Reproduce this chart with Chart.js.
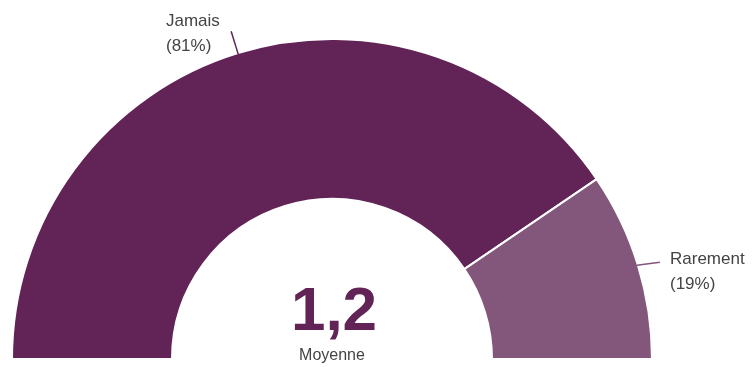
<!DOCTYPE html>
<html>
<head>
<meta charset="utf-8">
<script src="https://cdn.jsdelivr.net/npm/chart.js@4"></script>
<style>
  html, body { margin: 0; padding: 0; background: #fff; }
  #wrap { width: 752px; height: 367px; position: relative; }
</style>
</head>
<body>
<div id="wrap"><canvas id="gauge"></canvas></div>
<script>
const categories = ['Jamais', 'Rarement'];
const percents = [81, 19];
const sliceColors = ['#622356', '#83577b'];
const averageLabel = 'Moyenne';
const averageValue = '1,2';

// labels with leader lines, placed from each arc's middle angle
const outerLabels = {
    id: 'outerLabels',
    afterDraw(chart) {
        const ctx = chart.ctx;
        const meta = chart.getDatasetMeta(0);
        ctx.save();
        meta.data.forEach(function(arc, i) {
            const mid = (arc.startAngle + arc.endAngle) / 2;
            const cos = Math.cos(mid), sin = Math.sin(mid);
            const r1 = arc.outerRadius - 1, r2 = arc.outerRadius + 23;
            const x1 = arc.x + cos * r1, y1 = arc.y + sin * r1;
            let x2 = arc.x + cos * r2, y2 = arc.y + sin * r2;
            if (cos > 0) { y2 += 4; }
            ctx.strokeStyle = sliceColors[i];
            ctx.lineWidth = 1.5;
            ctx.beginPath();
            ctx.moveTo(x1, y1);
            ctx.lineTo(x2, y2);
            ctx.stroke();

            ctx.fillStyle = '#444';
            ctx.font = '17px "Liberation Sans", Arial, sans-serif';
            ctx.textBaseline = 'middle';
            ctx.textAlign = 'left';
            let tx, ty;
            if (cos < 0) {
                tx = 166; ty = 21;
            } else {
                tx = 670; ty = 259;
            }
            ctx.fillText(categories[i], tx, ty);
            ctx.fillText('(' + percents[i] + '%)', tx, ty + 25);
        });

        // average in the middle
        const a = meta.data[0];
        ctx.textAlign = 'center';
        ctx.textBaseline = 'alphabetic';
        ctx.fillStyle = '#622356';
        ctx.font = 'bold 62px "Liberation Sans", Arial, sans-serif';
        ctx.fillText(averageValue, a.x + 2, a.y - 29);
        ctx.fillStyle = '#444';
        ctx.font = '16px "Liberation Sans", Arial, sans-serif';
        ctx.fillText(averageLabel, a.x, a.y + 1);
        ctx.restore();
    }
};

new Chart(document.getElementById('gauge'), {
    type: 'doughnut',
    data: {
        labels: categories,
        datasets: [{
            data: percents,
            backgroundColor: sliceColors,
            borderColor: '#fff',
            borderWidth: 2
        }]
    },
    options: {
        responsive: true,
        maintainAspectRatio: false,
        animation: false,
        rotation: -90,
        circumference: 180,
        cutout: '50%',
        layout: { padding: { left: 10, right: 98, top: 38, bottom: 7 } },
        plugins: {
            legend: { display: false },
            tooltip: { enabled: false }
        }
    },
    plugins: [outerLabels]
});
</script>
</body>
</html>
